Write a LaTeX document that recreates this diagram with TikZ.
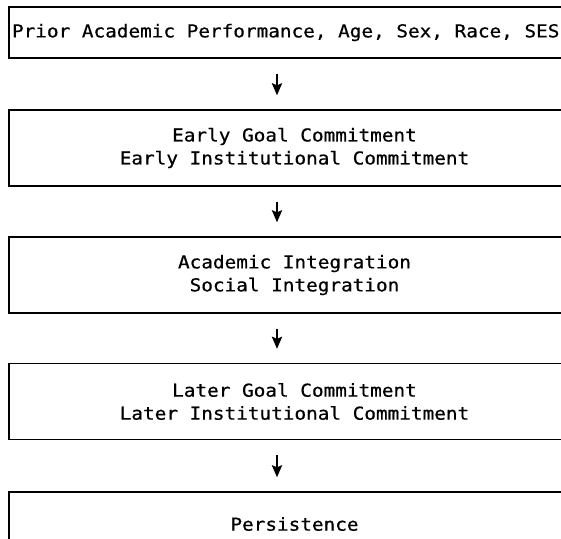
\documentclass[tikz,border=0pt]{standalone}
\usepackage{fontspec}
\usepackage{graphicx}
\newfontfamily\lgfont{DejaVu Sans Mono}[FakeBold=0.6]
\usetikzlibrary{arrows.meta}
\newcommand\WX[1]{\scalebox{1.087}[1]{#1}}
\newcommand\SP{\hspace*{0.602em}}
\newcommand\monoset{\fontsize{17.8}{23}\selectfont\lgfont}
\tikzset{
  boxstyle/.style={draw=black, line width=1.3pt, rectangle, minimum width=571pt,
    text width=565pt, inner xsep=3pt, inner ysep=0pt, align=center,
    font=\monoset},
  arr/.style={line width=2.8pt, -{Stealth[length=12pt,width=10pt,inset=2pt]}, shorten <=15pt, shorten >=14pt}
}
\begin{document}
\begin{tikzpicture}[x=1pt,y=-1pt]
\useasboundingbox (0,0) rectangle (561,538);
\clip (0,0) rectangle (561,538);
\fill[white] (0,0) rectangle (561,538);
\coordinate (ax) at (277,0);
\node[boxstyle, align=left, minimum height=51pt] (b1) at (294.5,32.5)
  {\WX{Prior\SP Academic\SP Performance,\SP Age,\SP Sex,\SP Race,\SP SES}};
\node[boxstyle, minimum height=76pt] (b2) at (294.5,148)
  {\WX{Early\SP Goal\SP Commitment}\\\WX{Early\SP Institutional\SP Commitment}};
\node[boxstyle, minimum height=76pt] (b3) at (294.5,275)
  {\WX{Academic\SP Integration}\\\WX{Social\SP Integration}};
\node[boxstyle, minimum height=76pt] (b4) at (294.5,401.5)
  {\WX{Later\SP Goal\SP Commitment}\\\WX{Later\SP Institutional\SP Commitment}};
\node[boxstyle, minimum height=64pt] (b5) at (294.5,524)
  {\WX{Persistence}};
\draw[arr] (b1.south -| ax) -- (b2.north -| ax);
\draw[arr] (b2.south -| ax) -- (b3.north -| ax);
\draw[arr] (b3.south -| ax) -- (b4.north -| ax);
\draw[arr] (b4.south -| ax) -- (b5.north -| ax);
\end{tikzpicture}
\end{document}
